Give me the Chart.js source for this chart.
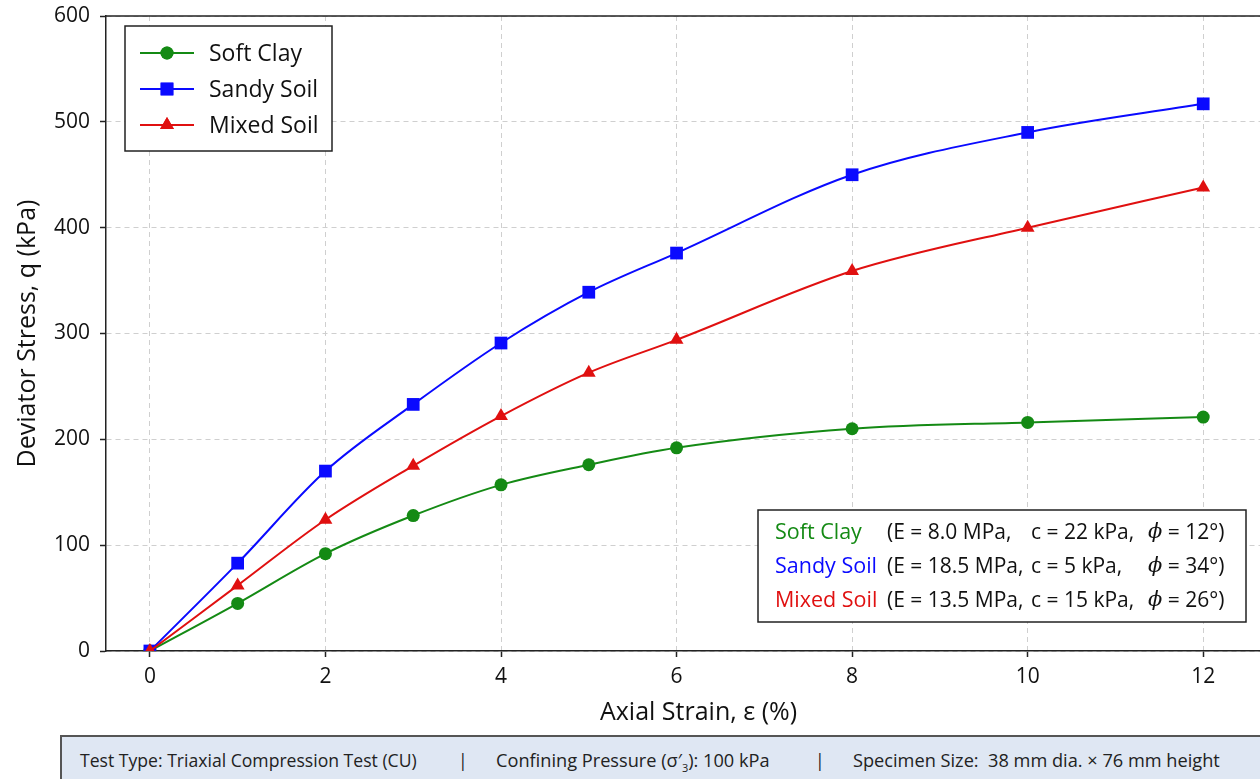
<!DOCTYPE html>
<html>
<head>
<meta charset="utf-8">
<script src="https://cdn.jsdelivr.net/npm/chart.js@4.4.1/dist/chart.umd.min.js"></script>
<style>
  html, body { margin: 0; padding: 0; background: #fff; overflow: hidden; }
  #wrap { position: relative; width: 1260px; height: 779px; overflow: hidden; }
  #holder { position: absolute; left: 0; top: 0; width: 1300px; height: 779px; }
  #info {
    position: absolute; left: 60px; top: 735px; width: 1240px; height: 60px;
    background: #dfe7f3; border-top: 2px solid #555; border-left: 2px solid #555;
    font-family: "Open Sans", Lato, sans-serif; font-size: 17.6px; color: #222;
  }
  #info span { position: absolute; top: 11px; white-space: nowrap; }
</style>
</head>
<body>
<div id="wrap">
  <div id="holder"><canvas id="c" width="1300" height="779"></canvas></div>
  <div id="info">
    <span style="left:18px">Test Type: Triaxial Compression Test (CU)</span>
    <span style="left:396px">|</span>
    <span style="left:434px; font-size:18.2px">Confining Pressure (σ′<sub style="font-size:11px">3</sub>): 100 kPa</span>
    <span style="left:753px">|</span>
    <span style="left:791px; font-size:18.2px">Specimen Size:&nbsp; 38 mm dia. × 76 mm height</span>
  </div>
</div>
<script>
// Axial strain (%) at each reading
const strain = [0, 1, 2, 3, 4, 5, 6, 8, 10, 12];
// Deviator stress q (kPa) for each soil
const softClay  = [0, 45, 92, 128, 157, 176, 192, 210, 216, 221];
const sandySoil = [0, 83, 170, 233, 291, 339, 376, 450, 490, 517];
const mixedSoil = [0, 62, 124, 175, 222, 263, 294, 359, 400, 438];
// Axis tick values
const xTicks = [0, 2, 4, 6, 8, 10, 12];
const yTicks = [0, 100, 200, 300, 400, 500, 600];
// Soil parameters shown in the summary box
const soilNames = ['Soft Clay', 'Sandy Soil', 'Mixed Soil'];
const paramE   = ['(E = 8.0 MPa,', '(E = 18.5 MPa,', '(E = 13.5 MPa,'];
const paramC   = ['c = 22 kPa,', 'c = 5 kPa,', 'c = 15 kPa,'];
const paramPhi = ['12°)', '34°)', '26°)'];

const FONT = '"Open Sans", Lato, sans-serif';
const GREEN = '#148a14', BLUE = '#0a0aff', RED = '#e01010';

const toXY = vals => strain.map((s, i) => ({ x: s, y: vals[i] }));

// Legend drawn inside the plot (top-left) and parameter box (bottom-right)
const overlayPlugin = {
  id: 'overlay',
  afterDatasetsDraw(chart) {
    const { ctx, chartArea: a } = chart;
    ctx.save();
    // frame top line
    ctx.strokeStyle = '#222'; ctx.lineWidth = 1.5;
    ctx.beginPath(); ctx.moveTo(a.left, a.top); ctx.lineTo(a.right, a.top); ctx.stroke();

    // legend
    const lx = a.left + 19, ly = a.top + 10;
    ctx.fillStyle = '#fff';
    ctx.fillRect(lx, ly, 207, 125);
    ctx.strokeRect(lx, ly, 207, 125);
    [0, 1, 2].forEach((di, r) => {
      const ds = chart.data.datasets[di];
      const y = ly + 27 + r * 36;
      ctx.strokeStyle = ds.borderColor; ctx.lineWidth = 2;
      ctx.beginPath(); ctx.moveTo(lx + 15, y); ctx.lineTo(lx + 69, y); ctx.stroke();
      ctx.fillStyle = ds.backgroundColor;
      Chart.helpers.drawPoint(ctx, { pointStyle: ds.pointStyle, radius: ds.pointRadius, borderWidth: 0 }, lx + 42, y);
      ctx.fill();
      ctx.fillStyle = '#111';
      ctx.font = '23px ' + FONT;
      ctx.textBaseline = 'middle';
      ctx.fillText(ds.label, lx + 84, y + 1);
    });

    // parameter box
    const bx = a.left + 652, by = a.bottom - 141, bw = 488, bh = 112;
    ctx.fillStyle = '#fff';
    ctx.fillRect(bx, by, bw, bh);
    ctx.strokeStyle = '#222'; ctx.lineWidth = 1.5;
    ctx.strokeRect(bx, by, bw, bh);
    const cols = [GREEN, BLUE, RED];
    ctx.textBaseline = 'middle';
    soilNames.forEach((n, r) => {
      const y = by + 23 + r * 34;
      ctx.font = '21.5px ' + FONT;
      ctx.fillStyle = cols[r];
      ctx.fillText(n, bx + 17, y);
      ctx.fillStyle = '#111';
      ctx.font = '21px ' + FONT;
      ctx.fillText(paramE[r], bx + 129, y);
      ctx.fillText(paramC[r], bx + 273, y);
      ctx.font = 'italic 21px "DejaVu Serif", serif';
      ctx.fillText('ϕ', bx + 390, y);
      const pw = ctx.measureText('ϕ').width;
      ctx.font = '21px ' + FONT;
      ctx.fillText(' = ' + paramPhi[r], bx + 390 + pw, y);
    });
    ctx.restore();
  }
};

new Chart(document.getElementById('c'), {
  type: 'line',
  data: {
    datasets: [
      { label: 'Soft Clay', data: toXY(softClay), borderColor: GREEN, backgroundColor: GREEN,
        pointStyle: 'circle', pointRadius: 6.5, order: 3 },
      { label: 'Sandy Soil', data: toXY(sandySoil), borderColor: BLUE, backgroundColor: BLUE,
        pointStyle: 'rect', pointRadius: 9, order: 2 },
      { label: 'Mixed Soil', data: toXY(mixedSoil), borderColor: RED, backgroundColor: RED,
        pointStyle: 'triangle', pointRadius: 8, order: 1 }
    ].map(d => Object.assign(d, { borderWidth: 2, pointBorderWidth: 0, cubicInterpolationMode: 'monotone', fill: false }))
  },
  options: {
    responsive: false,
    animation: false,
    layout: { padding: { top: 16, left: 0, right: 0, bottom: 44 } },
    plugins: { legend: { display: false }, tooltip: { enabled: false } },
    scales: {
      x: {
        type: 'linear', min: -0.5, max: 13,
        afterFit: s => { s.height = 84; s.paddingLeft = 0; s.paddingRight = 0; },
        afterBuildTicks: s => { s.ticks = xTicks.map(v => ({ value: v })); },
        ticks: { font: { size: 21, family: FONT }, color: '#111', padding: 7 },
        grid: { color: '#cfcfcf', lineWidth: 1, tickLength: 6, tickColor: '#222', tickWidth: 1.5, tickBorderDash: [] },
        border: { color: '#222', width: 1.5, dash: [5, 4] },
        title: { display: true, text: 'Axial Strain, ε (%)', font: { size: 25, family: FONT }, color: '#111', padding: { top: 0, bottom: 7 } }
      },
      y: {
        type: 'linear', min: 0, max: 600,
        afterFit: s => { s.width = 106; s.paddingTop = 0; s.paddingBottom = 0; },
        afterBuildTicks: s => { s.ticks = yTicks.map(v => ({ value: v })); },
        ticks: { font: { size: 21, family: FONT }, color: '#111', padding: 10 },
        grid: { color: '#cfcfcf', lineWidth: 1, tickLength: 6, tickColor: '#222', tickWidth: 1.5, tickBorderDash: [] },
        border: { color: '#222', width: 1.5, dash: [5, 4] },
        title: { display: true, text: 'Deviator Stress, q (kPa)', font: { size: 25, family: FONT }, color: '#111', padding: { top: 13, bottom: 0 } }
      }
    }
  },
  plugins: [overlayPlugin]
});
</script>
</body>
</html>
